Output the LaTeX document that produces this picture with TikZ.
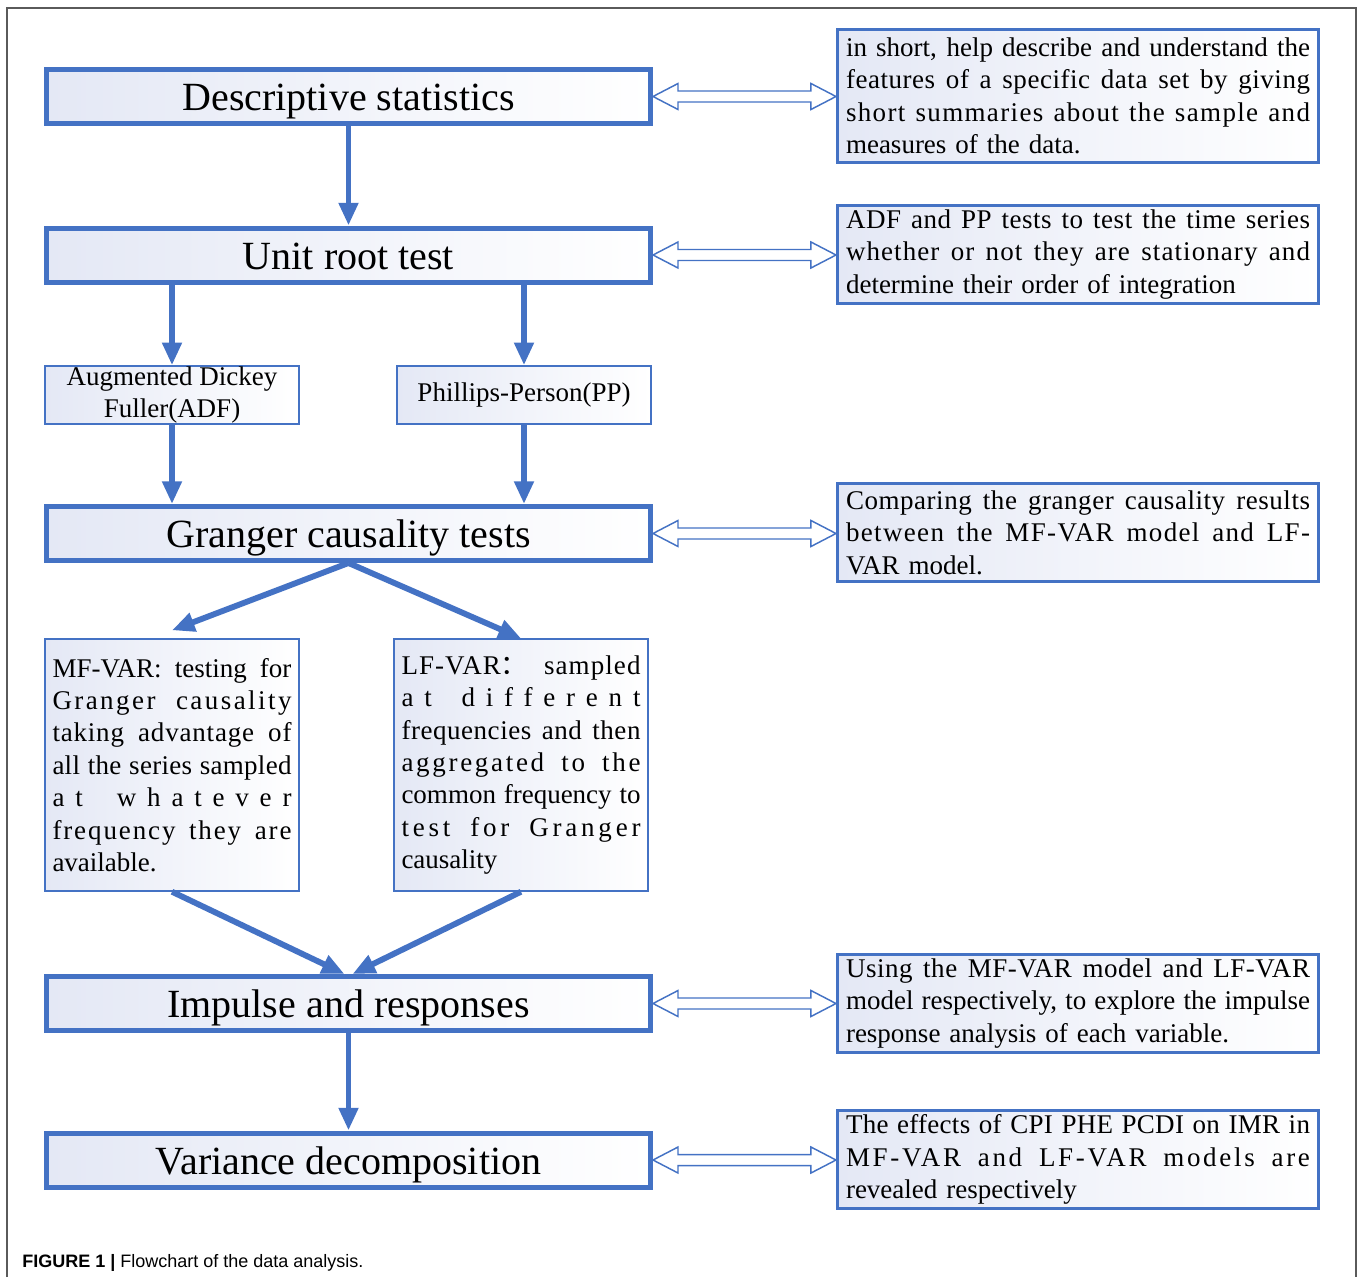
\documentclass[tikz,border=0pt]{standalone}
\usepackage{fontspec}
\setmainfont{Liberation Serif}
\newfontfamily\capfont{Liberation Sans}
\newfontfamily\cjk{Noto Sans CJK SC}
\usetikzlibrary{arrows.meta,calc}

\definecolor{boxblue}{RGB}{68,114,196}
\definecolor{boxtint}{RGB}{228,232,245}
\definecolor{framegray}{RGB}{90,90,90}

% one justified line, with optional letter spacing
\newlength{\jlw}
\newcommand{\jl}[2]{{\spaceskip=0pt\xspaceskip=0pt%
  \addfontfeature{LetterSpace=#1}\makebox[\jlw][s]{#2}}}

% hollow double arrow from a step box to its note box
\newcommand{\linkarrow}[2]{%
  \draw[linkarr] (#1.east) -- ++(25,-13) -- ++(0,7.5)
    -- ($(#2.west |- #1.east)+(-25,-5.5)$) -- ++(0,-7.5) -- (#2.west |- #1.east)
    -- ++(-25,13) -- ++(0,-7.5) -- ($(#1.east)+(25,5.5)$) -- ++(0,7.5) -- cycle;}

\tikzset{
  mainbox/.style={draw=boxblue, line width=3.75pt, left color=boxtint, right color=white,
    minimum width=453pt, minimum height=40.5pt, inner sep=0pt,
    text height=23pt, text depth=2pt, font=\fontsize{30}{36}\selectfont},
  smallbox/.style={draw=boxblue, line width=1.1pt, left color=boxtint, right color=white,
    minimum width=190.5pt, inner xsep=5.6pt, inner ysep=0pt,
    font=\fontsize{20.25}{24.3}\selectfont},
  varbox/.style={smallbox, minimum height=189pt, text width=179.25pt, align=left,
    execute at begin node={\setlength{\jlw}{179.25pt}}},
  notebox/.style={draw=boxblue, line width=2.25pt, left color=boxtint, right color=white,
    minimum width=360.75pt, text width=348pt, inner xsep=6.4pt, inner ysep=0pt,
    align=left, font=\fontsize{20.25}{24.3}\selectfont,
    execute at begin node={\setlength{\jlw}{348pt}}},
  flow/.style={draw=boxblue, line width=4.4pt, -{Triangle[length=17pt,width=14pt]}},
  linkarr/.style={draw=boxblue, line width=1.1pt, fill=white, line join=miter}
}

\begin{document}
\begin{tikzpicture}[x=0.75pt, y=-0.75pt]

    \useasboundingbox (0,0) rectangle (1358,1277);

    % Outer frame of the figure
    \draw[framegray, line width=1.1pt] (7,1277) -- (7,8) -- (1356,8) -- (1356,1277);

    % Main steps
    \node[mainbox] (ds)  at (348.5,96.5)  {Descriptive statistics};
    \node[mainbox] (ur)  at (348.5,255)   {Unit root test};
    \node[mainbox] (gc)  at (348.5,533.5) {Granger causality tests};
    \node[mainbox] (imp) at (348.5,1003.5) {Impulse and responses};
    \node[mainbox] (vd)  at (348.5,1160)  {Variance decomposition};

    % Unit root tests
    \node[smallbox, minimum height=43.5pt, align=center] (adf) at (172,395)
        {Augmented Dickey\\Fuller(ADF)};
    \node[smallbox, minimum height=43.5pt, align=center] (pp) at (524,395)
        {Phillips-Person(PP)};

    % The two VAR models
    \node[varbox] (mf) at (172,765)
        {\jl{0}{MF-VAR: testing for}\\
         \jl{9}{Granger causality}\\
         \jl{3}{taking advantage of}\\
         \jl{1}{all the series sampled}\\
         \jl{40}{at whatever}\\
         \jl{7}{frequency they are}\\
         available.};
    \node[varbox] (lf) at (521,765)
        {\jl{4}{LF-VAR{\cjk ：}\hfill sampled}\\
         \jl{40}{at different}\\
         \jl{2}{frequencies and then}\\
         \jl{10}{aggregated to the}\\
         \jl{0}{common frequency to}\\
         \jl{14}{test for Granger}\\
         causality};

    % Notes on the right
    \node[notebox, minimum height=99.75pt] (n1) at (1078,96)
        {\jl{0}{in short, help describe and understand the}\\
         \jl{2}{features of a specific data set by giving}\\
         \jl{5}{short summaries about the sample and}\\
         measures of the data.};
    \node[notebox, minimum height=73.5pt] (n2) at (1078,254.5)
        {\jl{2}{ADF and PP tests to test the time series}\\
         \jl{4}{whether or not they are stationary and}\\
         determine their order of integration};
    \node[notebox, minimum height=73.5pt] (n3) at (1078,532.5)
        {\jl{2}{Comparing the granger causality results}\\
         \jl{5}{between the MF-VAR model and LF-}\\
         VAR model.};
    \node[notebox, minimum height=73.5pt] (n4) at (1078,1003.5)
        {\jl{2}{Using the MF-VAR model and LF-VAR}\\
         \jl{0}{model respectively, to explore the impulse}\\
         response analysis of each variable.};
    \node[notebox, minimum height=73.5pt] (n5) at (1078,1159.5)
        {\jl{1}{The effects of CPI PHE PCDI on IMR in}\\
         \jl{10}{MF-VAR and LF-VAR models are}\\
         revealed respectively};

    % Flow arrows
    \draw[flow] (ds) -- (ur);
    \draw[flow] (ur.south -| adf) -- (adf);
    \draw[flow] (ur.south -| pp) -- (pp);
    \draw[flow] (adf) -- (gc.north -| adf);
    \draw[flow] (pp) -- (gc.north -| pp);
    \draw[flow] (gc.south) -- ([yshift=6pt]mf.north);
    \draw[flow] (gc.south) -- (lf.north);
    \draw[flow] (mf.south) -- ([xshift=-3pt]imp.north);
    \draw[flow] (lf.south) -- ([xshift=3pt]imp.north);
    \draw[flow] (imp) -- (vd);

    % Double arrows to the notes
    \linkarrow{ds}{n1}
    \linkarrow{ur}{n2}
    \linkarrow{gc}{n3}
    \linkarrow{imp}{n4}
    \linkarrow{vd}{n5}

    % Caption
    \node[anchor=base west, inner sep=0pt, font=\capfont\fontsize{13.5}{16}\selectfont] (cap) at (22,1267)
        {\textbf{FIGURE 1 |} Flowchart of the data analysis.};

\end{tikzpicture}
\end{document}
